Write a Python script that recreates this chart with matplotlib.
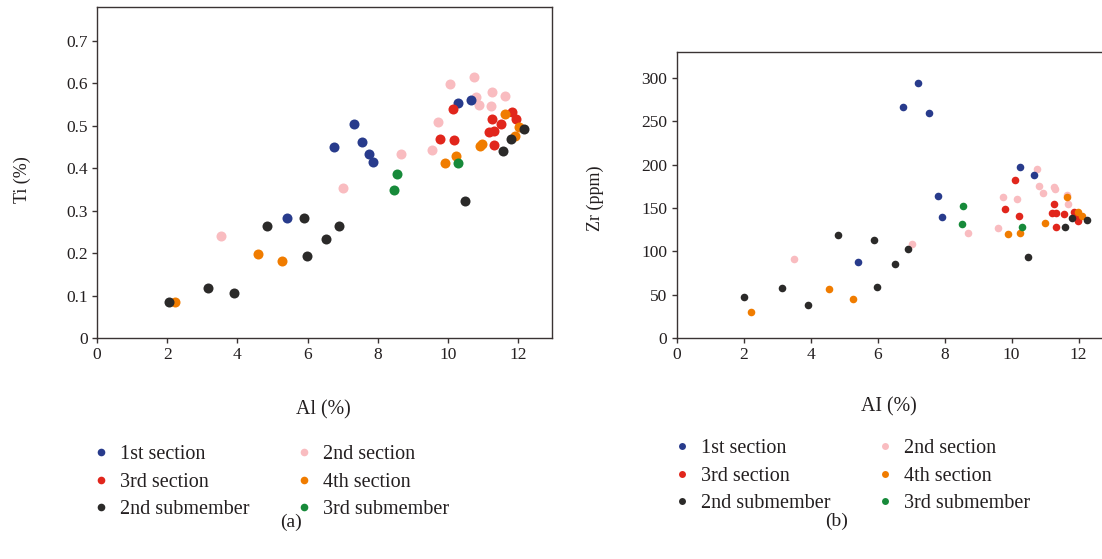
import matplotlib.pyplot as plt
from matplotlib.lines import Line2D

plt.rcParams['font.family'] = ['Liberation Serif', 'DejaVu Serif']

labels = ["1st section", "2nd section", "3rd section", "4th section",
          "2nd submember", "3rd submember"]
colors = ["#283b8c", "#f9bcc0", "#e1261c", "#f07c00", "#2b2a29", "#178a3a"]

# (a) Al vs Ti
al_1st = [5.42, 6.76, 7.33, 7.54, 7.75, 7.87, 10.27, 10.65]
ti_1st = [0.283, 0.451, 0.504, 0.463, 0.434, 0.414, 0.555, 0.561]
al_2nd = [3.52, 7.02, 8.65, 9.53, 9.72, 10.06, 10.73, 10.80, 10.87, 11.25, 11.22, 11.63]
ti_2nd = [0.240, 0.354, 0.434, 0.443, 0.508, 0.598, 0.614, 0.567, 0.549, 0.580, 0.546, 0.570]
al_3rd = [10.15, 9.77, 10.16, 11.24, 11.51, 11.17, 11.31, 11.30, 11.83, 11.94]
ti_3rd = [0.539, 0.468, 0.467, 0.515, 0.505, 0.486, 0.489, 0.455, 0.532, 0.517]
al_4th = [2.22, 4.60, 5.27, 9.90, 10.24, 10.91, 10.97, 11.62, 12.03, 11.92]
ti_4th = [0.084, 0.199, 0.181, 0.413, 0.428, 0.453, 0.458, 0.527, 0.498, 0.477]
al_sub2 = [2.04, 3.16, 3.91, 4.84, 5.90, 5.97, 6.52, 6.89, 10.48, 11.56, 11.78, 12.17]
ti_sub2 = [0.086, 0.119, 0.106, 0.264, 0.283, 0.193, 0.233, 0.263, 0.324, 0.441, 0.468, 0.492]
al_sub3 = [8.54, 8.47, 10.28]
ti_sub3 = [0.386, 0.350, 0.412]

# (b) Al vs Zr
alb_1st = [5.42, 6.75, 7.21, 7.53, 7.79, 7.93, 10.26, 10.68]
zr_1st = [87.7, 267, 294.6, 260, 163.5, 139.2, 197.3, 188]
alb_2nd = [3.50, 7.03, 8.69, 9.59, 9.75, 10.17, 10.76, 10.83, 10.93, 11.27, 11.30, 11.65, 11.70]
zr_2nd = [91.5, 108.5, 121, 126.5, 162.7, 160.4, 195.4, 175.4, 167.3, 174.6, 172.3, 165.4, 155]
alb_3rd = [10.09, 9.81, 10.21, 11.26, 11.20, 11.33, 11.57, 11.34, 11.87, 11.99, 11.99]
zr_3rd = [182.7, 148.5, 141.2, 154.6, 144.2, 144.2, 143, 128, 146, 140, 135.4]
alb_4th = [2.22, 4.56, 5.26, 9.90, 10.25, 11.00, 11.65, 11.97, 12.11]
zr_4th = [29.6, 56.2, 45.4, 120, 121.5, 132.7, 162.3, 145, 141]
alb_sub2 = [2.00, 3.15, 3.91, 4.82, 5.89, 5.97, 6.53, 6.92, 10.50, 11.60, 11.81, 12.26]
zr_sub2 = [47.7, 57.3, 37.7, 118.5, 113.5, 58.5, 85, 102.3, 93.8, 127.7, 138.5, 136.5]
alb_sub3 = [8.56, 8.53, 10.32]
zr_sub3 = [152, 132, 128.5]

ti_x = [al_1st, al_2nd, al_3rd, al_4th, al_sub2, al_sub3]
ti_y = [ti_1st, ti_2nd, ti_3rd, ti_4th, ti_sub2, ti_sub3]
zr_x = [alb_1st, alb_2nd, alb_3rd, alb_4th, alb_sub2, alb_sub3]
zr_y = [zr_1st, zr_2nd, zr_3rd, zr_4th, zr_sub2, zr_sub3]

spine_col = "#3a3333"
txt_col = "#231f20"
fig = plt.figure(figsize=(11.02, 5.59), dpi=100)
ax1 = fig.add_axes([0.0880, 0.3953, 0.4129, 0.5921])
ax2 = fig.add_axes([0.6139, 0.3953, 0.3861, 0.5116])

# pink first so the darker dots sit on top, like the original
order = [1, 0, 2, 3, 4, 5]
for i in order:
    ax1.scatter(ti_x[i], ti_y[i], s=52, color=colors[i], linewidths=0, zorder=3)
    ax2.scatter(zr_x[i], zr_y[i], s=30, color=colors[i], linewidths=0, zorder=3)

ax1.set_xlim(0, 12.96)
ax1.set_ylim(0, 0.78)
ax1.set_xticks(range(0, 13, 2))
ax1.set_yticks([0, 0.1, 0.2, 0.3, 0.4, 0.5, 0.6, 0.7])
ax1.set_yticklabels(["0", "0.1", "0.2", "0.3", "0.4", "0.5", "0.6", "0.7"])

ax2.set_xlim(0, 12.7)
ax2.set_ylim(0, 330)
ax2.set_xticks(range(0, 13, 2))
ax2.set_yticks(range(0, 301, 50))
ax2.spines['right'].set_visible(False)

for ax in (ax1, ax2):
    for sp in ax.spines.values():
        sp.set_color(spine_col)
        sp.set_linewidth(1.0)
    ax.tick_params(direction='out', length=3.5, width=1.0, color=spine_col,
                   labelsize=12.5, labelcolor=txt_col, pad=3)

ax1.set_ylabel("Ti (%)", fontsize=13, color=txt_col)
ax1.yaxis.set_label_coords(-0.145, 0.48)
ax2.set_ylabel("Zr (ppm)", fontsize=13, color=txt_col)
ax2.yaxis.set_label_coords(-0.170, 0.49)
fig.text(323 / 1102, 1 - 410 / 559, "Al (%)", fontsize=14.3, color=txt_col, ha='center', va='center')
fig.text(889 / 1102, 1 - 407 / 559, "AI (%)", fontsize=14.3, color=txt_col, ha='center', va='center')
fig.text(291 / 1102, 1 - 522 / 559, "(a)", fontsize=14, color=txt_col, ha='center', va='center')
fig.text(837 / 1102, 1 - 521 / 559, "(b)", fontsize=14, color=txt_col, ha='center', va='center')

# legend rows: 1st/2nd, 3rd/4th, sub2/sub3 (ncol fills by column)
leg_order = [0, 2, 4, 1, 3, 5]
for x0, y0, ms in ((93 / 1102, 1 - 445 / 559, 5.5), (674 / 1102, 1 - 439 / 559, 5.0)):
    hs = [Line2D([], [], ls='none', marker='o', markersize=ms, markeredgewidth=0,
                 color=colors[i]) for i in leg_order]
    leg = fig.legend(hs, [labels[i] for i in leg_order],
                     loc='upper left', bbox_to_anchor=(x0, y0), ncol=2, frameon=False,
                     fontsize=14.5, handlelength=0.8, handletextpad=0.55, columnspacing=2.3,
                     labelspacing=0.42, borderpad=0, borderaxespad=0)
    for t in leg.get_texts():
        t.set_color(txt_col)

fig.savefig("out.png", dpi=100)
